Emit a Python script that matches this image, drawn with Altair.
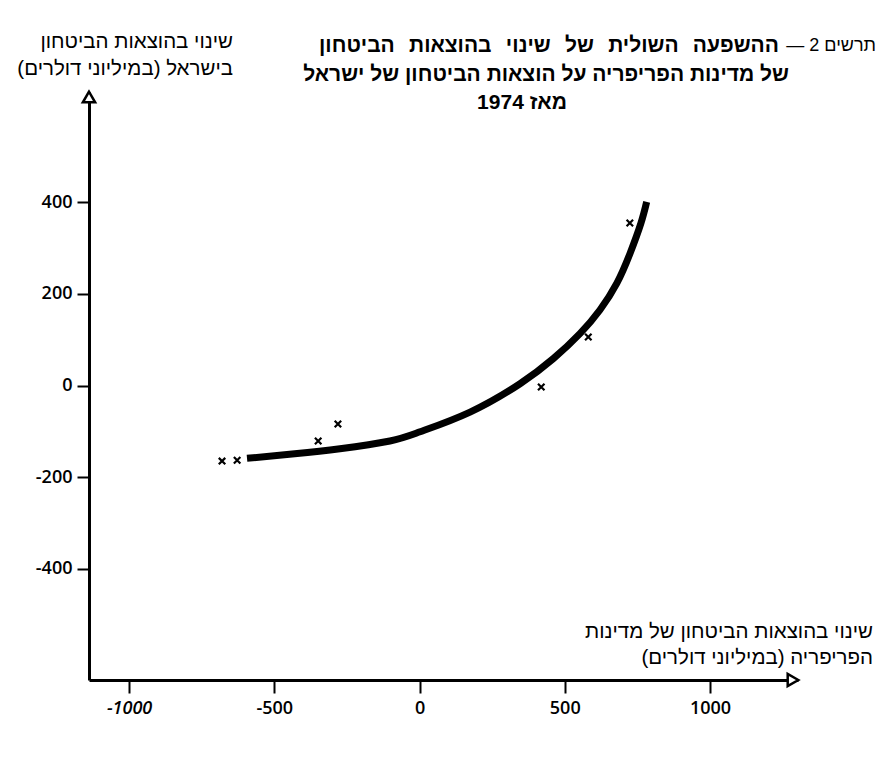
import altair as alt
import pandas as pd

# ---- data ----
CURVE_X = [-594, -430, -274, -102, 2, 174, 346, 461, 553, 621, 679, 725, 762, 782]
CURVE_Y = [-159, -149, -138, -121, -101, -58, 4, 59, 114, 165, 223, 289, 354, 401]

PTS_X = [-680, -628, -349, -281, 419, 581, 724]
PTS_Y = [-165, -163, -121, -84, -3, 106, 355]

X_TICKS = [-1000, -500, 0, 500, 1000]
Y_TICKS = [-400, -200, 0, 200, 400]
X_DOMAIN = [-1138, 1303]
Y_DOMAIN = [-643, 641]

TITLE_PREFIX = "תרשים 2 —"
TITLE_LINES = [
    "ההשפעה השולית של שינוי בהוצאות הביטחון",
    "של מדינות הפריפריה על הוצאות הביטחון של ישראל",
    "מאז 1974",
]
Y_TITLE = ["שינוי בהוצאות הביטחון", "בישראל (במיליוני דולרים)"]
X_TITLE = ["שינוי בהוצאות הביטחון של מדינות", "הפריפריה (במיליוני דולרים)"]

RLM = "\u200f"
HEB_FONT = "Liberation Sans"
NUM_FONT = "Open Sans"

curve_df = pd.DataFrame({"x": CURVE_X, "y": CURVE_Y})
pts_df = pd.DataFrame({"x": PTS_X, "y": PTS_Y})

x_axis = alt.Axis(
    values=X_TICKS, labelExpr="datum.value + ''", title=None, grid=False,
    domainColor="black", domainWidth=3, tickColor="black", tickWidth=2, tickSize=13,
    labelFont=NUM_FONT, labelFontSize=18, labelFontWeight=600, labelColor="black",
    labelPadding=6,
    labelFontStyle={"condition": {"test": "datum.value == -1000", "value": "italic"}, "value": "normal"},
)
y_axis = alt.Axis(
    values=Y_TICKS, labelExpr="datum.value + ''", title=None, grid=False,
    domainColor="black", domainWidth=3, tickColor="black", tickWidth=2, tickSize=12,
    labelFont=NUM_FONT, labelFontSize=18, labelFontWeight=600, labelColor="black",
    labelPadding=5,
)
xs = alt.Scale(domain=X_DOMAIN, nice=False, zero=False)
ys = alt.Scale(domain=Y_DOMAIN, nice=False, zero=False)
X = alt.X("x:Q", scale=xs, axis=x_axis)
Y = alt.Y("y:Q", scale=ys, axis=y_axis)

curve = alt.Chart(curve_df).mark_line(
    color="black", strokeWidth=7, interpolate="natural", strokeCap="butt"
).encode(x=X, y=Y)

points = alt.Chart(pts_df).mark_point(
    shape="M-1,-1L1,1M1,-1L-1,1", size=42, filled=False, stroke="black",
    strokeWidth=2.2, opacity=1
).encode(x=X, y=Y)

arrow_up = alt.Chart(alt.Data(values=[{"x": X_DOMAIN[0], "y": Y_DOMAIN[1]}])).mark_point(
    shape="triangle-up", size=150, filled=True, fill="white", stroke="black",
    strokeWidth=2.5, opacity=1, yOffset=5
).encode(x=X, y=Y)

arrow_right = alt.Chart(alt.Data(values=[{"x": X_DOMAIN[1], "y": Y_DOMAIN[0]}])).mark_point(
    shape="triangle-right", size=150, filled=True, fill="white", stroke="black",
    strokeWidth=2.5, opacity=1, xOffset=-5
).encode(x=X, y=Y)


def txt(s, x, y, align="right", size=20, weight="normal", font=HEB_FONT):
    return alt.Chart(alt.Data(values=[{"t": RLM + s + RLM}])).mark_text(
        align=align, baseline="middle", fontSize=size, fontWeight=weight,
        font=font, color="black"
    ).encode(text="t:N", x=alt.value(x), y=alt.value(y))


WIDE = " \u2009\u2009"  # slightly wider word gaps in the first title line

texts = [
    txt(TITLE_PREFIX, 787, -46, size=18),
    txt(TITLE_LINES[0].replace(" ", WIDE), 690, -46, size=21, weight="bold"),
    txt(TITLE_LINES[1], 700, -17, size=21, weight="bold"),
    txt(TITLE_LINES[2], 433, 11, align="center", size=21, weight="bold"),
    txt(Y_TITLE[0], 144, -50, size=20.5),
    txt(Y_TITLE[1], 144, -23, size=20.5),
    txt(X_TITLE[0], 784, 540, size=20.5),
    txt(X_TITLE[1], 784, 566, size=20.5),
]

chart = alt.layer(curve, points, arrow_up, arrow_right, *texts).properties(
    width=709, height=588, autosize="none",
    padding={"left": 81, "top": 84, "right": 80, "bottom": 70},
    background="white",
).configure_view(stroke=None)

chart.save("out.html", embed_options={"renderer": "svg", "actions": False})
